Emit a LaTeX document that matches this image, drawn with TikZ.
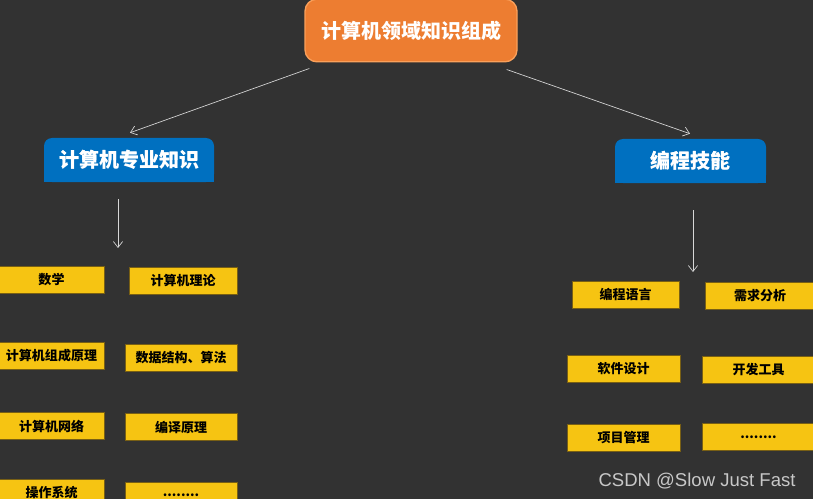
\documentclass[tikz,border=0pt]{standalone}
\usepackage{fontspec}
\setmainfont{Liberation Sans}
\newfontfamily\cjk{Noto Sans CJK SC}
\usetikzlibrary{arrows.meta}
\definecolor{bg}{RGB}{50,50,50}
\definecolor{orangebox}{RGB}{237,125,49}
\definecolor{orangeedge}{RGB}{250,160,90}
\definecolor{bluebox}{RGB}{0,112,192}
\definecolor{yellowbox}{RGB}{246,196,18}
\definecolor{yellowedge}{RGB}{120,95,20}
\definecolor{arrowcol}{RGB}{215,215,215}
\definecolor{markcol}{RGB}{200,200,200}
\tikzset{
  topbox/.style={fill=orangebox, draw=orangeedge, line width=1pt, rounded corners=9pt,
    minimum width=159pt, minimum height=47pt, inner sep=0pt, text=white,
    font=\cjk\bfseries\fontsize{15pt}{18pt}\selectfont},
  secbox/.style={fill=bluebox, rounded corners=6pt, minimum height=33pt, inner sep=0pt,
    text=white, font=\cjk\bfseries\fontsize{15pt}{18pt}\selectfont},
  ybox/.style={fill=yellowbox, draw=yellowedge, line width=0.4pt, minimum height=20pt,
    inner sep=0pt, text=black, font=\cjk\bfseries\fontsize{9.75pt}{12pt}\selectfont},
  conn/.style={draw=arrowcol, line width=0.5pt, -{Straight Barb[length=4.5pt,width=7pt]}},
}
\begin{document}
\begin{tikzpicture}[x=0.75pt,y=-0.75pt]
\fill[bg] (0,0) rectangle (813,499);
\useasboundingbox (0,0) rectangle (813,499);

% top
\node[topbox] (top) at (411,30.5) {计算机领域知识组成};

% section boxes
\node[secbox, minimum width=127.5pt] (cs) at (129,160) {计算机专业知识};
\fill[bluebox] (cs.west) rectangle (cs.south east);
\node[secbox, fill=none] at (129,160) {计算机专业知识};

\node[secbox, minimum width=113.25pt] (pg) at (690.5,161) {编程技能};
\fill[bluebox] (pg.west) rectangle (pg.south east);
\node[secbox, fill=none] at (690.5,161) {编程技能};

% connectors
\draw[conn] ([shift={(5,6)}]top.south west) -- ([shift={(1,-5)}]cs.north);
\draw[conn] ([shift={(-11,7)}]top.south east) -- ([shift={(-0.5,-5)}]pg.north);
\coordinate (csd) at (118,248);
\coordinate (pgd) at (693,272);
\draw[conn] ([shift={(-11,17)}]cs.south) -- (csd);
\draw[conn] ([shift={(2.5,27)}]pg.south) -- (pgd);

% left yellow boxes
\node[ybox, minimum width=79pt] (math) at (51.5,279.5) {数学};
\node[ybox, minimum width=81pt] (theory) at (183,280.5) {计算机理论};
\node[ybox, minimum width=79pt] (org) at (51.5,356) {计算机组成原理};
\node[ybox, minimum width=84pt] (ds) at (181,357.5) {数据结构、算法};
\node[ybox, minimum width=79pt] (net) at (51.5,426) {计算机网络};
\node[ybox, minimum width=84pt] (comp) at (181,427) {编译原理};
\node[ybox, minimum width=79pt] (os) at (51.5,493) {操作系统};
\node[ybox, minimum width=84pt] (more1) at (181,495.5) {........};

% right yellow boxes
\node[ybox, minimum width=80.25pt] (lang) at (625.5,294.5) {编程语言};
\node[ybox, minimum width=82.5pt] (req) at (760,295.5) {需求分析};
\node[ybox, minimum width=84.75pt] (design) at (623.5,369) {软件设计};
\node[ybox, minimum width=84.75pt] (tools) at (758.5,370) {开发工具};
\node[ybox, minimum width=84.75pt] (pm) at (623.5,438) {项目管理};
\node[ybox, minimum width=84.75pt] (more2) at (758.5,437) {........};

% watermark
\node[text=markcol, font=\fontsize{13.9pt}{16pt}\selectfont, inner sep=0pt] (wm) at (697,481) {CSDN @Slow Just Fast};
\end{tikzpicture}
\end{document}
